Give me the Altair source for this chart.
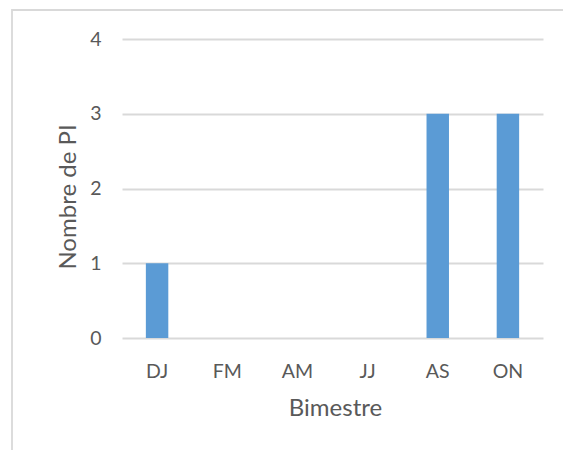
import altair as alt
import pandas as pd

# Number of PI per two-month period
bimestres = ["DJ", "FM", "AM", "JJ", "AS", "ON"]
nombre_pi = [1, 0, 0, 0, 3, 3]
y_ticks = [0, 1, 2, 3, 4]

df = pd.DataFrame({"Bimestre": bimestres, "PI": nombre_pi})

FONT = "Lato"
TEXT = "#595959"
GRID = "#d9d9d9"
BAR = "#5b9bd5"

W, H = 421, 299

bars = alt.Chart(df).mark_bar(color=BAR).encode(
    x=alt.X(
        "Bimestre:N",
        sort=bimestres,
        scale=alt.Scale(paddingInner=0.68, paddingOuter=0.34),
        axis=alt.Axis(
            title="Bimestre",
            labelAngle=0,
            labelFont=FONT,
            labelFontSize=19.5,
            labelColor=TEXT,
            labelBaseline="alphabetic",
            labelPadding=39,
            ticks=False,
            tickSize=0,
            domain=False,
            grid=False,
            titleFont=FONT,
            titleFontSize=24,
            titleFontWeight="normal",
            titleColor=TEXT,
            titleBaseline="alphabetic",
            titleX=213,
            titleY=77,
        ),
    ),
    y=alt.Y(
        "PI:Q",
        scale=alt.Scale(domain=[0, 4], nice=False),
        axis=alt.Axis(
            title="Nombre de PI",
            values=y_ticks,
            format="d",
            labelFont=FONT,
            labelFontSize=19.5,
            labelColor=TEXT,
            labelPadding=21,
            ticks=False,
            tickSize=0,
            domain=False,
            grid=True,
            gridColor=GRID,
            gridWidth=1.8,
            titleFont=FONT,
            titleFontSize=24,
            titleFontWeight="normal",
            titleColor=TEXT,
            titleAngle=-90,
            titleAlign="center",
            titleBaseline="alphabetic",
            titleX=-47,
            titleY=157.5,
        ),
    ),
)

# chart frame
frame = alt.Chart(pd.DataFrame({"k": [0]})).mark_rect(
    fill=None, stroke=GRID, strokeWidth=1.8
).encode(
    x=alt.value(-110),
    x2=alt.value(W + 60),
    y=alt.value(-29),
    y2=alt.value(H + 160),
)

chart = (
    alt.layer(frame, bars)
    .properties(
        width=W,
        height=H,
        padding={"left": 122, "top": 39, "right": 20, "bottom": 112},
        autosize=alt.AutoSizeParams(type="none"),
        background="white",
    )
    .configure_view(stroke=None)
)

chart.save("out.html", embed_options={"renderer": "svg", "actions": False})
